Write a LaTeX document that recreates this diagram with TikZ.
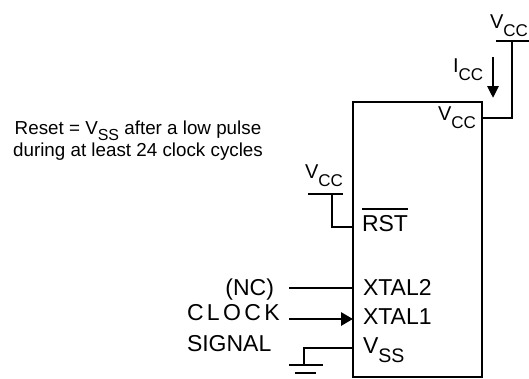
\documentclass[tikz,border=0pt]{standalone}
\usepackage{fontspec}
\setmainfont{Liberation Sans}
\usetikzlibrary{arrows.meta}
\newcommand{\lowsub}[2][.4em]{\raisebox{-#1}{\scalebox{.85}{#2}}}
\newcommand{\barred}[1]{\leavevmode\vbox{\hrule height 2pt\kern 5pt\hbox{#1}}}
\tikzset{
    every node/.style={inner sep=0pt, outer sep=0pt,
    	font=\fontsize{23}{26}\selectfont}
}
\tikzset{
    wire/.style={line width=2.9pt},
    small/.style={font=\fontsize{20}{22}\selectfont},
    note/.style={font=\fontsize{18.8}{21.5}\selectfont, align=center}
}

\begin{document}
\begin{tikzpicture}[x=1pt, y=-1pt]
	\useasboundingbox (0,0) rectangle (529,378);
	\node (chip) [draw, wire, minimum width=129pt, minimum height=275pt, anchor=north west] at (353,102) {};

	\node (vcctop) [small, anchor=base west] at (490,28) {V\lowsub{CC}};
	\node (icc) [small, anchor=base west] at (453,72) {I\lowsub{CC}};
	\node (vccin) [small, anchor=base east] at (476,120) {V\lowsub{CC}};
	\node (vccrst) [small, anchor=base west] at (305,178) {V\lowsub{CC}};
	\node (rstlbl) [anchor=base west] at (362,231.5) {\barred{RST}};
	\node (xt2lbl) [anchor=base west] at (363,295) {XTAL2};
	\node (xt1lbl) [anchor=base west] at (363,324) {XTAL1};
	\node (vsslbl) [anchor=base west] at (363,353) {V\lowsub{SS}};
	\node (nclbl) [anchor=base east] at (274,295.5) {(NC)};
	\node (clklbl) [anchor=base west] at (187,320) {C\kern3.4pt L\kern3.4pt O\kern3.4pt C\kern3.4pt K};
	\node (siglbl) [anchor=base west] at (187,351.5) {SIGNAL};
	\node (reset) [note, anchor=north] at (138,121) {Reset = V\lowsub[.3em]{SS} after a low pulse\\during at least 24 clock cycles};

	\coordinate (vccpin) at (482,118); \coordinate (vccjoint) at (512,41);
	\coordinate (vccL) at (496,41); \coordinate (vccR) at (529,41);
	\coordinate (iccA) at (493,57); \coordinate (iccB) at (493,98);
	\coordinate (rstpin) at (353,227); \coordinate (rstjoint) at (332,194);
	\coordinate (rstL) at (308,194); \coordinate (rstR) at (343,194);
	\coordinate (xt2pin) at (353,288); \coordinate (xt2end) at (289,288);
	\coordinate (xt1pin) at (353,319); \coordinate (xt1end) at (289,319);
	\coordinate (vsspin) at (353,348); \coordinate (gnd) at (304,365);
	\coordinate (gndA) at (289,365); \coordinate (gndB) at (323,365);
	\coordinate (gndC) at (295,373); \coordinate (gndD) at (316,373);

	\draw [wire] (vccpin) -| (vccjoint); \draw [wire] (vccL) -- (vccR);
	\draw [wire, -{Triangle[length=12pt, width=11pt]}] (iccA) -- (iccB);
	\draw [wire] (rstpin) -| (rstjoint); \draw [wire] (rstL) -- (rstR);
	\draw [wire] (xt2end) -- (xt2pin);
	\draw [wire, -{Triangle[length=12pt, width=13pt]}] (xt1end) -- (xt1pin);
	\draw [wire] (vsspin) -| (gnd);
	\draw [wire] (gndA) -- (gndB); \draw [wire] (gndC) -- (gndD);
\end{tikzpicture}
\end{document}
